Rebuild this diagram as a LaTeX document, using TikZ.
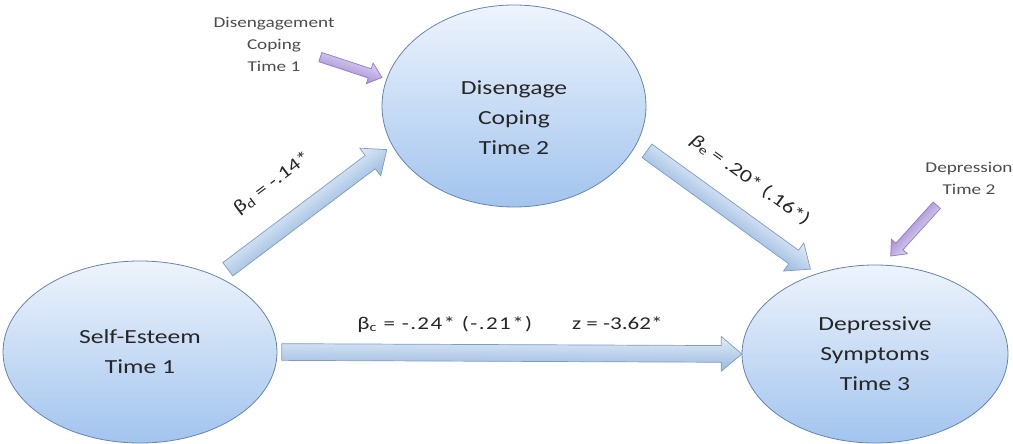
\documentclass[tikz,border=0pt]{standalone}
\usepackage{fontspec}
\setmainfont{Carlito}[FakeStretch=1.28]
\usetikzlibrary{arrows.meta,positioning,calc,shapes.geometric,shapes.arrows}

\definecolor{ovaltop}{HTML}{EEF4FC}
\definecolor{ovalbot}{HTML}{A2C4EE}
\definecolor{ovalline}{HTML}{6585B0}
\definecolor{arrtop}{HTML}{E2ECF7}
\definecolor{arrbot}{HTML}{98B9E0}
\definecolor{arrline}{HTML}{7E9BC2}
\definecolor{lilactop}{HTML}{DDD2F2}
\definecolor{lilacbot}{HTML}{A790D6}
\definecolor{lilacline}{HTML}{8F7DC4}

\tikzset{
  every node/.append style={text=black!85},
  construct/.style={ellipse, draw=ovalline, line width=0.8pt,
    top color=ovaltop, bottom color=ovalbot,
    align=center, inner sep=0pt, font=\fontsize{20}{30}\selectfont},
  fatarrow/.style={single arrow, draw=arrline, line width=0.7pt,
    top color=arrtop, bottom color=arrbot,
    inner xsep=0pt, inner ysep=8pt,
    single arrow head extend=9pt, single arrow tip angle=80,
    single arrow head indent=0pt},
  lilacarrow/.style={fatarrow, draw=lilacline, top color=lilactop, bottom color=lilacbot,
    inner ysep=4.5pt, single arrow head extend=6pt},
  estimate/.style={font=\fontsize{18}{22}\selectfont},
  priorwave/.style={font=\fontsize{15}{22}\selectfont, align=center, text=black!70}
}

% block arrow from #2 (tail) to #3 (tip), shading turned with it
\newcommand{\fatarrow}[3][fatarrow]{%
  \path let \p1=(#2), \p2=(#3) in \pgfextra{%
    \pgfmathsetmacro\arrang{atan2(\y2-\y1,\x2-\x1)}%
    \pgfmathsetmacro\arrlen{veclen(\x2-\x1,\y2-\y1)}%
    \xdef\arrang{\arrang}\xdef\arrlen{\arrlen}%
    \xdef\arrx{\x1}\xdef\arry{\y1}};
  \begin{scope}[transform canvas={shift={(\arrx,\arry)}, rotate=\arrang}]
    \node[#1, minimum height=\arrlen, anchor=tail] at (0,0) {};
  \end{scope}}

\begin{document}
\begin{tikzpicture}[x=1pt, y=-1pt]
\useasboundingbox (0,0) rectangle (1013,444);

% --- constructs ---
\node[construct, minimum width=274, minimum height=182] (self) at (140,352) {Self-Esteem\\Time 1};
\node[construct, minimum width=264, minimum height=202] (dis)  at (514,106) {\rule{0pt}{38pt}Disengage\\Coping\\Time 2};
\node[construct, minimum width=266, minimum height=178] (dep)  at (875,354) {Depressive\\Symptoms\\Time 3};

% --- prior waves ---
\node[priorwave] (prior1) at (274,44)  {Disengagement\\Coping\\Time 1};
\node[priorwave] (prior2) at (969,178) {Depression\\Time 2};

% --- arrow ends ---
\coordinate (sd-tail) at ($(self.44)!12pt!(dis.198)$);
\coordinate (sd-tip)  at ($(dis.198)!7pt!(self.44)$);
\coordinate (dd-tail) at ($(dis.-17)!12pt!(dep.126)$);
\coordinate (dd-tip)  at ($(dep.126)!8pt!(dis.-17)$);
\coordinate (sp-tail) at ($(self.east)!4pt!(dep.west)$);
\coordinate (p1-tail) at (320,57);
\coordinate (p1-tip)  at ($(dis.168)!5pt!(p1-tail)$);
\coordinate (p2-tail) at (937,205);
\coordinate (p2-tip)  at ($(dep.85)!12pt!(p2-tail)$);

% --- paths ---
\fatarrow{sd-tail}{sd-tip}
\fatarrow{dd-tail}{dd-tip}
\fatarrow{sp-tail}{dep.west}
\fatarrow[lilacarrow]{p1-tail}{p1-tip}
\fatarrow[lilacarrow]{p2-tail}{p2-tip}

% --- estimates ---
\node[estimate, rotate=37]  (bd) at (272,183) {β\textsubscript{d} = -.14*};
\node[estimate, rotate=-36] (be) at (750,180) {\textit{β}\textsubscript{e} = .20* (.16*)};
\node[estimate] (bc) at (510,324) {{\addfontfeature{LetterSpace=8}β\textsubscript{c} = -.24* (-.21*)}\hspace{40pt}z = -3.62*};

\end{tikzpicture}
\end{document}
